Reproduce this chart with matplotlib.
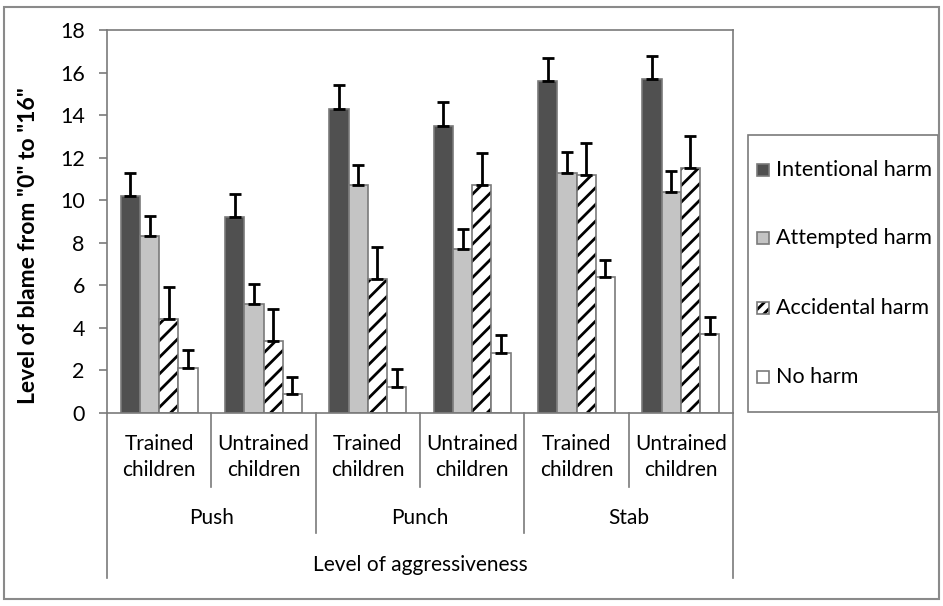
import matplotlib
matplotlib.use("Agg")
import matplotlib.pyplot as plt
from matplotlib.patches import Rectangle
import numpy as np

plt.rcParams['font.family'] = ['Lato', 'DejaVu Sans']
plt.rcParams['hatch.linewidth'] = 2.0

# Mean blame ratings per group (Push/Punch/Stab x trained/untrained)
groups = ['Trained\nchildren', 'Untrained\nchildren'] * 3
actions = ['Push', 'Punch', 'Stab']
series = ['Intentional harm', 'Attempted harm', 'Accidental harm', 'No harm']

intentional = [10.2, 9.2, 14.3, 13.5, 15.6, 15.7]
attempted = [8.3, 5.1, 10.7, 7.7, 11.3, 10.4]
accidental = [4.4, 3.4, 6.3, 10.7, 11.2, 11.5]
no_harm = [2.1, 0.9, 1.2, 2.8, 6.4, 3.7]

intentional_err = [1.1, 1.1, 1.1, 1.1, 1.1, 1.1]
attempted_err = [0.95, 0.95, 0.95, 0.95, 0.95, 0.95]
accidental_err = [1.5, 1.5, 1.5, 1.5, 1.5, 1.5]
no_harm_err = [0.85, 0.8, 0.85, 0.85, 0.8, 0.8]

values = [intentional, attempted, accidental, no_harm]
errors = [intentional_err, attempted_err, accidental_err, no_harm_err]
fills = ['#505050', '#c4c4c4', 'white', 'white']
hatches = [None, None, '//', None]
edge = '#7a7a7a'
fs = 15

W, H = 943, 606
fig = plt.figure(figsize=(W / 100, H / 100), dpi=100)
ax = fig.add_axes([107 / W, 1 - 413 / H, 626 / W, 383 / H])

x = np.arange(len(groups)) + 0.5
bw = 0.185
for i, (vals, errs) in enumerate(zip(values, errors)):
    pos = x + (i - 1.5) * bw
    if hatches[i]:
        # black hatch layer underneath the gray outline
        ax.bar(pos, vals, width=bw, color=fills[i], edgecolor='black',
               linewidth=0, hatch=hatches[i], zorder=2)
        ax.bar(pos, vals, width=bw, fill=False, edgecolor=edge, linewidth=1.2,
               zorder=2)
    else:
        ax.bar(pos, vals, width=bw, color=fills[i], edgecolor=edge,
               linewidth=1.2, zorder=2)
    ax.errorbar(pos, vals, yerr=[np.zeros(len(errs)), errs], fmt='none',
                ecolor='black', elinewidth=2, capsize=4, capthick=2, zorder=3)

ax.set_xlim(0, 6)
ax.set_ylim(0, 18)
ax.set_yticks(range(0, 19, 2))
ax.set_xticks([])
ax.tick_params(axis='y', direction='out', length=6, width=1.2, color=edge,
               labelsize=fs + 0.5, pad=10)
for s in ax.spines.values():
    s.set_color(edge)
    s.set_linewidth(1.2)

ax.set_ylabel('Level of blame from "0" to "16"', fontsize=16.5, fontweight='bold')
ax.yaxis.set_label_coords(-68 / 626, 0.436)

# hierarchical category axis below the plot
tr = ax.get_xaxis_transform()
def below(px):
    return -px / 383

for k in range(7):
    if k in (0, 6):
        depth = 165
    elif k % 2 == 0:
        depth = 120
    else:
        depth = 74
    ax.plot([k, k], [0, below(depth)], transform=tr, color=edge, lw=1.2,
            clip_on=False)

for xi, g in zip(x, groups):
    ax.text(xi, below(44), g, transform=tr, ha='center', va='center',
            fontsize=fs, linespacing=1.4)
for j, a in enumerate(actions):
    ax.text(2 * j + 1, below(105), a, transform=tr, ha='center', va='center',
            fontsize=fs)
ax.text(3, below(152), 'Level of aggressiveness', transform=tr, ha='center',
        va='center', fontsize=fs)

# legend box on the right, laid out in pixel units
def fx(px):
    return px / W
def fy(py):
    return 1 - py / H

fig.add_artist(Rectangle((fx(748), fy(412)), (938 - 748) / W, (412 - 135) / H,
                         transform=fig.transFigure, fill=False,
                         edgecolor=edge, lw=1.2))
row_y = [170, 238, 308, 377]
for i, (name, yy) in enumerate(zip(series, row_y)):
    if hatches[i]:
        fig.add_artist(Rectangle((fx(757), fy(yy + 6)), 12 / W, 12 / H,
                                 transform=fig.transFigure, facecolor='white',
                                 edgecolor='black', lw=0, hatch='///'))
        fig.add_artist(Rectangle((fx(757), fy(yy + 6)), 12 / W, 12 / H,
                                 transform=fig.transFigure, fill=False,
                                 edgecolor=edge, lw=1.2))
    else:
        fig.add_artist(Rectangle((fx(757), fy(yy + 6)), 12 / W, 12 / H,
                                 transform=fig.transFigure, facecolor=fills[i],
                                 edgecolor=edge, lw=1.2))
    fig.text(fx(776), fy(yy), name, ha='left', va='center', fontsize=fs + 0.5)

fig.add_artist(Rectangle((4 / W, 1 - 599 / H), 935 / W, 592 / H,
                         transform=fig.transFigure, fill=False,
                         edgecolor='#8a8a8a', lw=1.5))

fig.savefig('out.png', dpi=100)
